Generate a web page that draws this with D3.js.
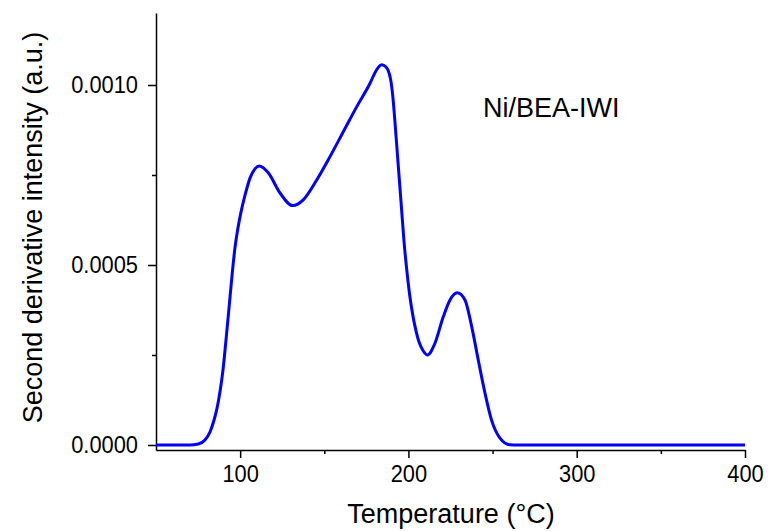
<!DOCTYPE html>
<html>
<head>
<meta charset="utf-8">
<script src="https://cdn.jsdelivr.net/npm/d3@7"></script>
<style>
  html, body { margin: 0; padding: 0; background: #fff; }
  svg { display: block; font-family: "Liberation Sans", Arial, sans-serif; }
</style>
</head>
<body>
<svg id="chart" width="768" height="531"></svg>
<script>
// ---- data ----
const temperature = [50, 70.2, 75.1, 79.1, 82.1, 84.5, 86.3, 88.0, 89.8, 91.6, 93.4, 95.2, 96.9, 98.7, 100.5, 102.9, 105.9, 108.8, 111.4, 116.7, 123.7, 131.2, 137.5, 145.5, 153.4, 161.3, 169.3, 177.2, 180.7, 184.1, 186.7, 188.5, 189.7, 190.8, 192.0, 193.8, 195.6, 197.4, 199.2, 200.9, 202.7, 204.5, 206.3, 208.1, 209.6, 211.2, 215.7, 220.7, 224.7, 229.0, 233.6, 237.6, 241.5, 245.5, 249.4, 254.4, 260.3, 265, 400];
const intensity = [0, 0, 0.0000028, 0.0000139, 0.0000361, 0.0000694, 0.000103, 0.000147, 0.000208, 0.000292, 0.000381, 0.000472, 0.000547, 0.000603, 0.000647, 0.000694, 0.000742, 0.000767, 0.000775, 0.000756, 0.000700, 0.000665, 0.000681, 0.000736, 0.000801, 0.000870, 0.000940, 0.001005, 0.001039, 0.001056, 0.001050, 0.001033, 0.001008, 0.000964, 0.000897, 0.000786, 0.000675, 0.000564, 0.000478, 0.000411, 0.000358, 0.000317, 0.000286, 0.000267, 0.000256, 0.000250, 0.000282, 0.000356, 0.000403, 0.000423, 0.000403, 0.000329, 0.000236, 0.000144, 0.000069, 0.000019, 0.0000005, 0, 0];
const xMajorTicks = [100, 200, 300, 400];
const xMinorTicks = [150, 250, 350];
const yMajorTicks = [0, 0.0005, 0.0010];
const yMinorTicks = [0.00025, 0.00075];
const yTickLabels = ["0.0000", "0.0005", "0.0010"];
const xTitle = "Temperature (\u00B0C)";
const yTitle = "Second derivative intensity (a.u.)";
const sampleLabel = "Ni/BEA-IWI";

const svg = d3.select("#chart");
const x = d3.scaleLinear().domain([50, 400]).range([156, 745]);
const y = d3.scaleLinear().domain([-0.0000139, 0.0012]).range([450, 13]);
const squeeze = 0.91;

// x axis
const gx = svg.append("g").attr("transform", "translate(0,450)");
gx.call(d3.axisBottom(x).tickValues(xMajorTicks).tickSize(8).tickSizeOuter(0).tickPadding(7).tickFormat(d3.format("d")));
gx.append("g").call(d3.axisBottom(x).tickValues(xMinorTicks).tickSize(4).tickFormat(""))
  .select(".domain").remove();
// y axis
const gy = svg.append("g").attr("transform", "translate(156,0)");
gy.call(d3.axisLeft(y).tickValues(yMajorTicks).tickSize(8).tickSizeOuter(0).tickPadding(10)
  .tickFormat((d, i) => yTickLabels[i]));
gy.append("g").call(d3.axisLeft(y).tickValues(yMinorTicks).tickSize(4).tickFormat(""))
  .select(".domain").remove();

svg.selectAll(".domain, .tick line").attr("stroke", "#000").attr("stroke-width", 1.5);
svg.selectAll(".tick text")
  .attr("font-size", 24).attr("fill", "#000")
  .attr("font-family", "'Liberation Sans', Arial, sans-serif")
  .each(function() {
    const t = d3.select(this);
    const ox = +t.attr("x") || 0;
    t.attr("x", ox / squeeze).attr("transform", `scale(${squeeze},1)`);
  });

// curve
const line = d3.line().x((d, i) => x(temperature[i])).y(d => y(d)).curve(d3.curveMonotoneX);
svg.append("path").datum(intensity).attr("d", line)
  .attr("fill", "none").attr("stroke", "#0000ff").attr("stroke-width", 3).attr("stroke-linejoin", "round");

// titles
svg.append("text").attr("x", 451).attr("y", 523).attr("text-anchor", "middle")
  .attr("font-size", 27).attr("fill", "#000").text(xTitle);
svg.append("text").attr("transform", "translate(42,227.5) rotate(-90)").attr("text-anchor", "middle")
  .attr("font-size", 27).attr("fill", "#000").text(yTitle);
svg.append("text").attr("x", 483).attr("y", 117).attr("font-size", 27).attr("fill", "#000").text(sampleLabel);
</script>
</body>
</html>
